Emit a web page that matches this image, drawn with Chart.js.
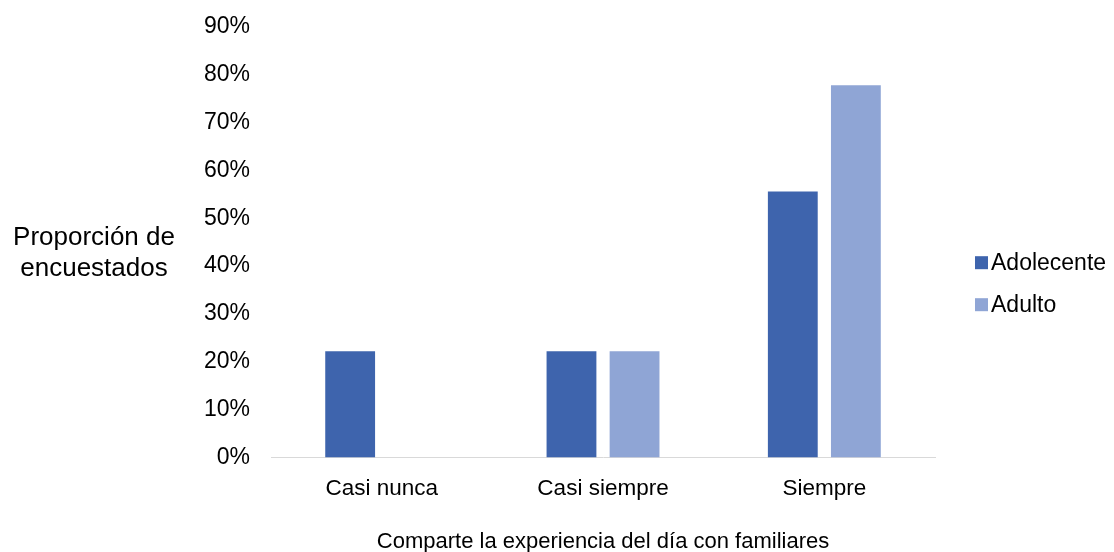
<!DOCTYPE html>
<html>
<head>
<meta charset="utf-8">
<script src="https://cdn.jsdelivr.net/npm/chart.js@4.4.1/dist/chart.umd.min.js"></script>
<style>
  html, body { margin: 0; padding: 0; background: #fff; }
  #wrap { position: relative; width: 1114px; height: 552px; }
</style>
</head>
<body>
<div id="wrap"><canvas id="chart"></canvas></div>
<script>
// datos
const categorias = ['Casi nunca', 'Casi siempre', 'Siempre'];
const adolecente = [22.2, 22.2, 55.6];
const adulto = [0, 22.2, 77.8];
const tituloY = ['Proporción de', 'encuestados'];
const tituloX = 'Comparte la experiencia del día con familiares';

const fuente = "'Liberation Sans', Arial, sans-serif";

// titulo del eje Y en horizontal y leyenda a la derecha (estilo Excel)
const extras = {
    id: 'extras',
    afterDraw(chart) {
        const c = chart.ctx;
        const area = chart.chartArea;
        const mid = (area.top + area.bottom) / 2;
        c.save();
        c.fillStyle = '#000';
        c.font = '26px ' + fuente;
        c.textAlign = 'center';
        c.textBaseline = 'middle';
        c.fillText(tituloY[0], 94, mid - 4);
        c.fillText(tituloY[1], 94, mid + 27);

        c.font = '23px ' + fuente;
        c.textAlign = 'left';
        chart.data.datasets.forEach((ds, i) => {
            const y = mid + 20.5 + i * 42;
            const x = area.right + 40;
            c.fillStyle = ds.backgroundColor;
            c.fillRect(x, y - 6.5, 13, 13);
            c.fillStyle = '#000';
            c.fillText(ds.label, x + 16, y + 1);
        });
        c.restore();
    }
};

new Chart(document.getElementById('chart'), {
    type: 'bar',
    data: {
        labels: categorias,
        datasets: [
            { label: 'Adolecente', data: adolecente, backgroundColor: '#3e64ad' },
            { label: 'Adulto', data: adulto, backgroundColor: '#8fa5d5' }
        ]
    },
    options: {
        responsive: true,
        maintainAspectRatio: false,
        animation: false,
        barPercentage: 0.79,
        categoryPercentage: 0.57,
        layout: { padding: { left: 191, top: 0, right: 179, bottom: -3 } },
        scales: {
            x: {
                grid: { display: false },
                border: { color: '#d9d9d9', width: 1 },
                ticks: { color: '#000', font: { family: fuente, size: 22.5 }, padding: 10 },
                title: {
                    display: true, text: tituloX, color: '#000',
                    font: { family: fuente, size: 22 }, padding: { top: 16, bottom: 0 }
                }
            },
            y: {
                min: 0, max: 90,
                grid: { display: false },
                border: { display: false },
                ticks: {
                    stepSize: 10, color: '#000', padding: 13,
                    font: { family: fuente, size: 23 },
                    callback: v => v + '%'
                }
            }
        },
        plugins: {
            legend: { display: false },
            tooltip: { enabled: false }
        }
    },
    plugins: [extras]
});
</script>
</body>
</html>
